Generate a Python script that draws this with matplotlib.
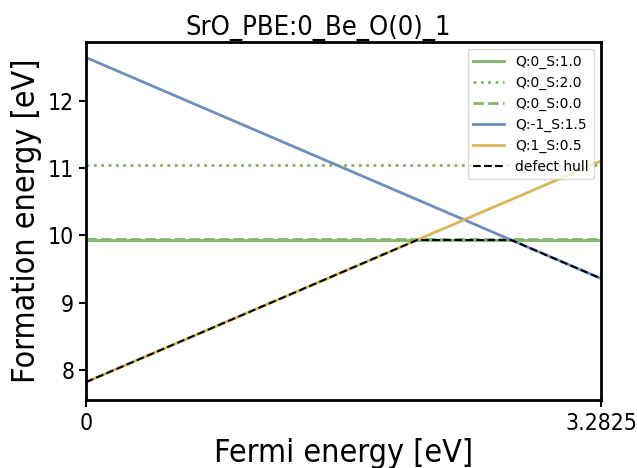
import matplotlib
matplotlib.use("Agg")
import matplotlib.pyplot as plt
import numpy as np

plt.rcParams['font.family'] = ['DejaVu Sans']
plt.rcParams['font.stretch'] = 'condensed'

title = "SrO_PBE:0_Be_O(0)_1"
gap = 3.2825
labels = ["Q:0_S:1.0", "Q:0_S:2.0", "Q:0_S:0.0", "Q:-1_S:1.5", "Q:1_S:0.5"]
charges = [0, 0, 0, -1, 1]
e0 = [9.93, 11.04, 9.95, 12.64, 7.82]
colors = ["#82b366", "#82b366", "#82b366", "#6c8ebf", "#d6b656"]
styles = ["-", ":", "--", "-", "-"]

fig = plt.figure(figsize=(6.37, 4.68), dpi=100)
ax = fig.add_axes([0.135, 0.1453, 0.8085, 0.765])

x = np.array([0.0, gap])
for lab, q, e, c, ls in zip(labels, charges, e0, colors, styles):
    ax.plot(x, e + q * x, color=c, ls=ls, lw=2, label=lab)

xx = np.linspace(0, gap, 2001)
hull = np.min([e + q * xx for q, e in zip(charges, e0)], axis=0)
ax.plot(xx, hull, color="black", ls="--", lw=1.5, label="defect hull")

ax.set_xlim(0, gap)
ax.set_ylim(7.554, 12.87)
ax.set_xticks([0, gap])
ax.set_xticklabels(["0", "3.2825"])
ax.set_yticks([8, 9, 10, 11, 12])
ax.tick_params(labelsize=16.5, width=1.5, length=5)
for s in ax.spines.values():
    s.set_linewidth(2)
ax.set_xlabel("Fermi energy [eV]", fontsize=23, labelpad=2)
ax.set_ylabel("Formation energy [eV]", fontsize=23, labelpad=4)
ax.set_title(title, fontsize=19.5, x=0.4515, pad=5)
ax.legend(loc="upper right", prop={'size': 10, 'stretch': 'normal'}, handlelength=2.2)

fig.savefig("out.png", dpi=100)
